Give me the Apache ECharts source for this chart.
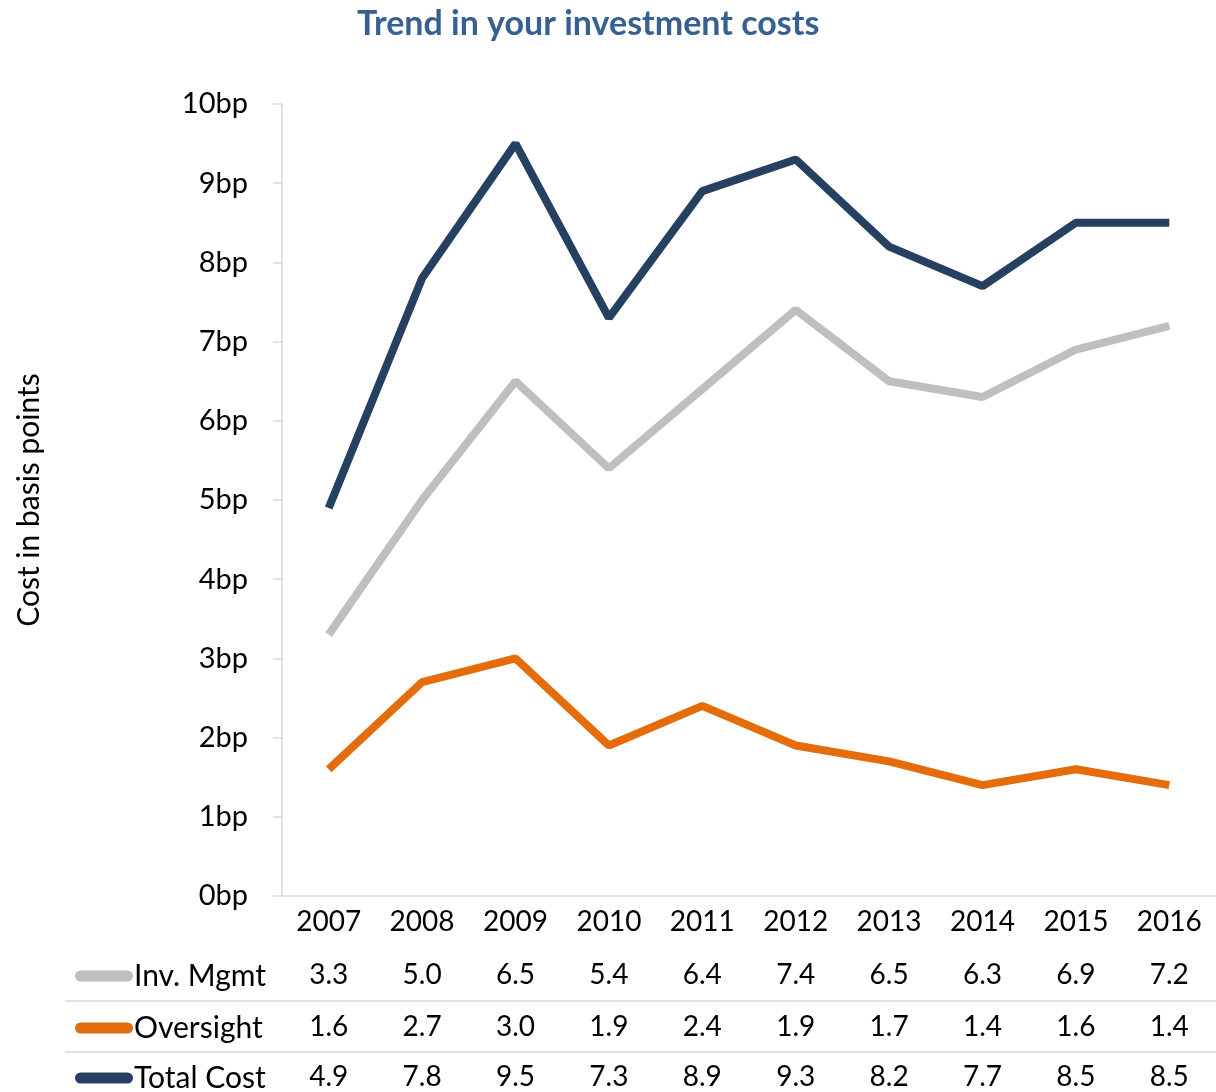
<!DOCTYPE html>
<html>
<head>
<meta charset="utf-8">
<script src="https://cdn.jsdelivr.net/npm/echarts@6/dist/echarts.min.js"></script>
<style>
  html, body { margin: 0; padding: 0; background: #fff; }
  #chart { width: 1216px; height: 1092px; }
</style>
</head>
<body>
<div id="chart"></div>
<script>
const years = ['2007', '2008', '2009', '2010', '2011', '2012', '2013', '2014', '2015', '2016'];
const invMgmt = [3.3, 5.0, 6.5, 5.4, 6.4, 7.4, 6.5, 6.3, 6.9, 7.2];
const oversight = [1.6, 2.7, 3.0, 1.9, 2.4, 1.9, 1.7, 1.4, 1.6, 1.4];
const totalCost = [4.9, 7.8, 9.5, 7.3, 8.9, 9.3, 8.2, 7.7, 8.5, 8.5];
const seriesNames = ['Inv. Mgmt', 'Oversight', 'Total Cost'];

const FONT = 'Lato';
const colors = ['#bfbfbf', '#e46c0a', '#254061'];
const pill = 'path://M5.5,0 H52.5 A5.5,5.5 0 0 1 52.5,11 H5.5 A5.5,5.5 0 0 1 5.5,0 Z';

const chart = echarts.init(document.getElementById('chart'));

// one extra category axis per table row, labels = the row's values
function tableAxis(values, offset) {
    return {
        type: 'category',
        gridIndex: 0,
        position: 'bottom',
        offset: offset,
        data: values.map(v => v.toFixed(1)),
        axisLine: { show: false },
        axisTick: { show: false },
        axisLabel: { fontFamily: FONT, fontSize: 28, color: '#000', margin: 13 }
    };
}

// one legend per table row so each sits next to its values
function rowLegend(name, top) {
    return {
        left: 70,
        top: top,
        data: [name],
        icon: pill,
        itemWidth: 58,
        itemHeight: 11,
        textStyle: { fontFamily: FONT, fontSize: 30, color: '#000', lineHeight: 32, padding: [0, 0, 0, -4] }
    };
}

const option = {
    animation: false,
    title: {
        text: 'Trend in your investment costs',
        left: 352,
        top: 2,
        textStyle: { fontFamily: FONT, fontSize: 34, fontWeight: 'bold', color: '#376092' }
    },
    legend: [
        rowLegend(seriesNames[0], 955),
        rowLegend(seriesNames[1], 1007),
        rowLegend(seriesNames[2], 1057)
    ],
    grid: { left: 282, top: 104, bottom: 196, right: -6 },
    xAxis: [
        {
            type: 'category',
            data: years,
            boundaryGap: true,
            axisLine: { lineStyle: { color: '#d9d9d9', width: 1.5 } },
            axisTick: { show: false },
            axisLabel: { fontFamily: FONT, fontSize: 28, color: '#000', margin: 12 }
        },
        tableAxis(invMgmt, 52),
        tableAxis(oversight, 104),
        tableAxis(totalCost, 154)
    ],
    yAxis: {
        type: 'value',
        min: 0,
        max: 10,
        interval: 1,
        name: 'Cost in basis points',
        nameLocation: 'middle',
        nameRotate: 90,
        nameGap: 238,
        nameTextStyle: { fontFamily: FONT, fontSize: 30, color: '#000' },
        axisLine: { show: true, lineStyle: { color: '#d9d9d9', width: 1.5 } },
        axisTick: { show: true, length: 9, lineStyle: { color: '#d9d9d9', width: 1.5 } },
        axisLabel: { formatter: '{value}bp', fontFamily: FONT, fontSize: 29, color: '#000', margin: 34 },
        splitLine: { show: false }
    },
    series: [
        { name: seriesNames[0], data: invMgmt, color: colors[0] },
        { name: seriesNames[1], data: oversight, color: colors[1] },
        { name: seriesNames[2], data: totalCost, color: colors[2] }
    ].map(s => ({
        name: s.name,
        type: 'line',
        data: s.data,
        symbol: 'none',
        itemStyle: { color: s.color },
        lineStyle: { color: s.color, width: 8 }
    })),
    graphic: [
        { type: 'line', shape: { x1: 65, y1: 1001, x2: 1216, y2: 1001 }, style: { stroke: '#d9d9d9', lineWidth: 1.5 } },
        { type: 'line', shape: { x1: 65, y1: 1052, x2: 1216, y2: 1052 }, style: { stroke: '#d9d9d9', lineWidth: 1.5 } }
    ]
};

chart.setOption(option);
</script>
</body>
</html>
